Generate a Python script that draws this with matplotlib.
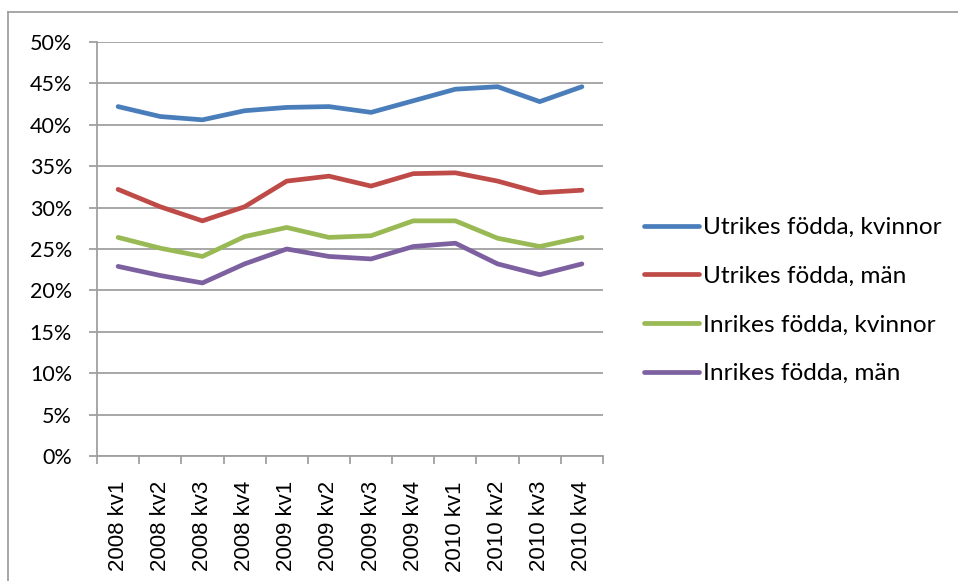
import matplotlib as mpl
import matplotlib.pyplot as plt
from matplotlib.ticker import FixedLocator, PercentFormatter
mpl.use('Agg')

# data
kvartal = ["2008 kv1", "2008 kv2", "2008 kv3", "2008 kv4",
           "2009 kv1", "2009 kv2", "2009 kv3", "2009 kv4",
           "2010 kv1", "2010 kv2", "2010 kv3", "2010 kv4"]
utr_kvinnor = [42.2, 41.0, 40.6, 41.7, 42.1, 42.2, 41.5, 42.9, 44.3, 44.6, 42.8, 44.6]
utr_man = [32.2, 30.1, 28.4, 30.1, 33.2, 33.8, 32.6, 34.1, 34.2, 33.2, 31.8, 32.1]
inr_kvinnor = [26.4, 25.1, 24.1, 26.5, 27.6, 26.4, 26.6, 28.4, 28.4, 26.3, 25.3, 26.4]
inr_man = [22.9, 21.8, 20.9, 23.2, 25.0, 24.1, 23.8, 25.3, 25.7, 23.2, 21.9, 23.2]

serier = [("Utrikes födda, kvinnor", utr_kvinnor, "#4A7EBB"),
          ("Utrikes födda, män", utr_man, "#BE4B48"),
          ("Inrikes födda, kvinnor", inr_kvinnor, "#98B954"),
          ("Inrikes födda, män", inr_man, "#7D60A0")]

fig = plt.figure(figsize=(9.58, 5.81), dpi=100)
W, H = 958, 581
ax = fig.add_axes([97 / W, 1 - 456 / H, (603 - 97) / W, (456 - 42) / H])

# ram runt diagrammet (bara topp och vänster syns)
fig.add_artist(plt.Line2D([8 / W, 1], [1 - 12 / H, 1 - 12 / H], color="#A0A0A0", lw=1.3))
fig.add_artist(plt.Line2D([8 / W, 8 / W], [0, 1 - 12 / H], color="#A0A0A0", lw=1.3))

x = list(range(len(kvartal)))
for namn, varden, farg in serier:
    ax.plot(x, varden, color=farg, lw=3.4, label=namn, solid_capstyle="round", solid_joinstyle="round")

ax.set_xlim(-0.5, len(kvartal) - 0.5)
ax.set_ylim(0, 50)
ax.set_yticks(range(0, 51, 5))
ax.yaxis.set_major_formatter(PercentFormatter(decimals=0))
ax.grid(axis="y", color="#A0A0A0", lw=1.3)
ax.set_axisbelow(True)

ax.set_xticks(x)
ax.set_xticklabels(kvartal, rotation=90, fontsize=16, family="Liberation Sans")
ax.xaxis.set_minor_locator(FixedLocator([i - 0.5 for i in range(len(kvartal) + 1)]))
ax.tick_params(axis="x", which="major", length=0, pad=18)
ax.tick_params(axis="x", which="minor", length=6, color="#A0A0A0", width=1.3)
ax.tick_params(axis="y", length=6, color="#A0A0A0", width=1.3, labelsize=15.5, pad=12)
for lab in ax.get_yticklabels():
    lab.set_family("Lato")

for s in ["top", "right"]:
    ax.spines[s].set_visible(False)
for s in ["left", "bottom"]:
    ax.spines[s].set_color("#A0A0A0")
    ax.spines[s].set_linewidth(1.3)

leg = fig.legend(loc="upper left", bbox_to_anchor=(622 / W, 1 - 195 / H), frameon=False,
                 prop={"family": "Lato", "size": 17.6}, handlelength=2.25, handletextpad=0.15,
                 labelspacing=1.13)
for h in leg.get_lines():
    h.set_linewidth(3.4)

plt.savefig("out.png", dpi=100)
